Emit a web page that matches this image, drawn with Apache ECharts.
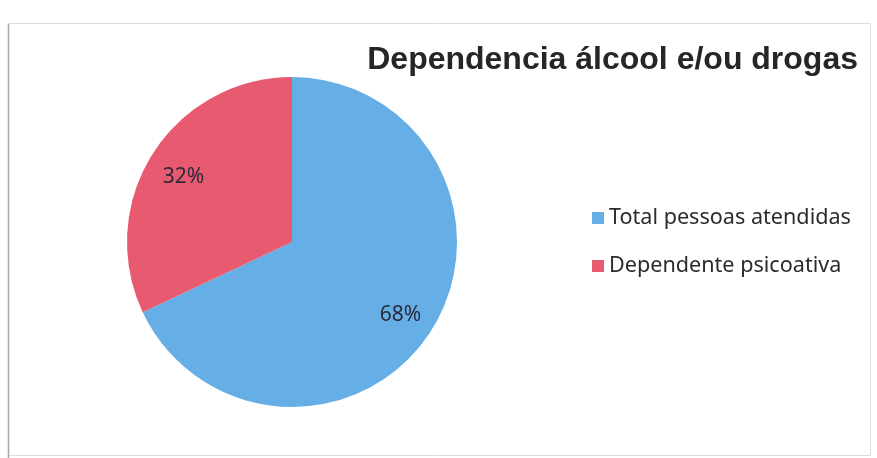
<!DOCTYPE html>
<html>
<head>
<meta charset="utf-8">
<script src="https://cdn.jsdelivr.net/npm/echarts@6/dist/echarts.min.js"></script>
<style>
html,body{margin:0;padding:0;background:#fff;}
#chart{width:877px;height:458px;}
</style>
</head>
<body>
<div id="chart"></div>
<script>
var categories = ['Total pessoas atendidas', 'Dependente psicoativa'];
var values = [68, 32];
var colors = ['#66AEE6', '#E85A6F'];

var pieData = categories.map(function (c, i) {
  return { name: c, value: values[i], itemStyle: { color: colors[i] } };
});
var labelData = categories.map(function (c, i) {
  return { name: c, value: values[i] };
});

var chart = echarts.init(document.getElementById('chart'), null, { renderer: 'canvas' });
chart.setOption({
  backgroundColor: '#ffffff',
  animation: false,
  graphic: [
    { type: 'rect', shape: { x: 8.5, y: 23.5, width: 862, height: 432 }, style: { fill: 'none', stroke: '#dcdcdc', lineWidth: 1 }, silent: true },
    { type: 'line', shape: { x1: 8.5, y1: 24, x2: 8.5, y2: 458 }, style: { stroke: '#a8a8a8', lineWidth: 1.5 }, silent: true }
  ],
  title: {
    text: 'Dependencia álcool e/ou drogas',
    right: 14,
    top: 39,
    textStyle: { fontFamily: 'Liberation Sans', fontWeight: 'bold', fontSize: 32, color: '#262626' }
  },
  legend: {
    orient: 'vertical',
    left: 587,
    top: 200,
    itemWidth: 12,
    itemHeight: 12,
    itemGap: 22,
    icon: 'rect',
    data: categories,
    textStyle: { fontFamily: 'Noto Sans', fontSize: 21.6, color: '#2b2b2b', lineHeight: 26 }
  },
  series: [
    {
      type: 'pie',
      center: [292, 242],
      radius: 165,
      startAngle: 90,
      clockwise: true,
      label: { show: false },
      labelLine: { show: false },
      silent: true,
      data: pieData
    },
    {
      type: 'pie',
      center: [292, 242],
      radius: [86, 165],
      startAngle: 90,
      clockwise: true,
      silent: true,
      itemStyle: { color: 'rgba(0,0,0,0)' },
      label: {
        show: true,
        position: 'inside',
        formatter: '{c}%',
        offset: [0, 4],
        fontFamily: 'Noto Sans',
        fontSize: 21,
        color: '#2b2b3b'
      },
      labelLine: { show: false },
      data: labelData
    }
  ]
});
</script>
</body>
</html>
